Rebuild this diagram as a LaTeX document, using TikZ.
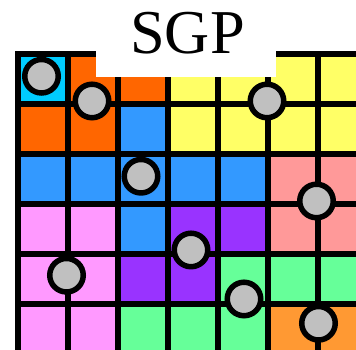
\documentclass[tikz,border=0pt]{standalone}
\usepackage{fontspec}
\setmainfont{Liberation Serif}

\definecolor{cy}{HTML}{00CCFF}
\definecolor{or}{HTML}{FF6600}
\definecolor{ye}{HTML}{FFFF66}
\definecolor{bl}{HTML}{3399FF}
\definecolor{sa}{HTML}{FF9999}
\definecolor{pk}{HTML}{FF99FF}
\definecolor{pu}{HTML}{9933FF}
\definecolor{gr}{HTML}{66FF99}
\definecolor{lo}{HTML}{FF9933}
\definecolor{stonegray}{HTML}{C0C0C0}

\begin{document}
\begin{tikzpicture}[x=1cm, y={(0,-0.99cm)},
      stone/.style={circle, draw=black, fill=stonegray, line width=1.1mm,
        minimum size=6.7mm, inner sep=0pt}]
    \useasboundingbox (-0.36,-1.09) rectangle (6.76,5.98);
    \clip (-0.36,-1.09) rectangle (6.76,5.98);
    % cell colours, one row at a time
    \foreach \c [count=\x from 0] in {cy,or,or,ye,ye,ye,ye} \fill[\c] (\x,0) rectangle ++(1,1);
    \foreach \c [count=\x from 0] in {or,or,bl,ye,ye,ye,ye} \fill[\c] (\x,1) rectangle ++(1,1);
    \foreach \c [count=\x from 0] in {bl,bl,bl,bl,bl,sa,sa} \fill[\c] (\x,2) rectangle ++(1,1);
    \foreach \c [count=\x from 0] in {pk,pk,bl,pu,pu,sa,sa} \fill[\c] (\x,3) rectangle ++(1,1);
    \foreach \c [count=\x from 0] in {pk,pk,pu,pu,gr,gr,gr} \fill[\c] (\x,4) rectangle ++(1,1);
    \foreach \c [count=\x from 0] in {pk,pk,gr,gr,gr,lo,lo} \fill[\c] (\x,5) rectangle ++(1,1);
    \draw[line width=1.1mm, line cap=rect] (0,0) grid (7,6);
    % title patch over the top edge
    \fill[white] (1.56,-1.2) rectangle (5.16,0.46);
    \node[anchor=base, inner sep=0pt, font=\fontsize{35.5}{36}\selectfont] (title) at (3.39,0) {SGP};
    % stones
    \node[stone] (s1) at (0.47,0.45) {};
    \node[stone] (s2) at (1.48,0.95) {};
    \node[stone] (s3) at (4.98,0.95) {};
    \node[stone] (s4) at (2.46,2.47) {};
    \node[stone] (s5) at (5.97,2.97) {};
    \node[stone] (s6) at (3.46,3.96) {};
    \node[stone] (s7) at (0.97,4.47) {};
    \node[stone] (s8) at (4.52,4.95) {};
    \node[stone] (s9) at (6.01,5.44) {};
  \end{tikzpicture}
\end{document}
